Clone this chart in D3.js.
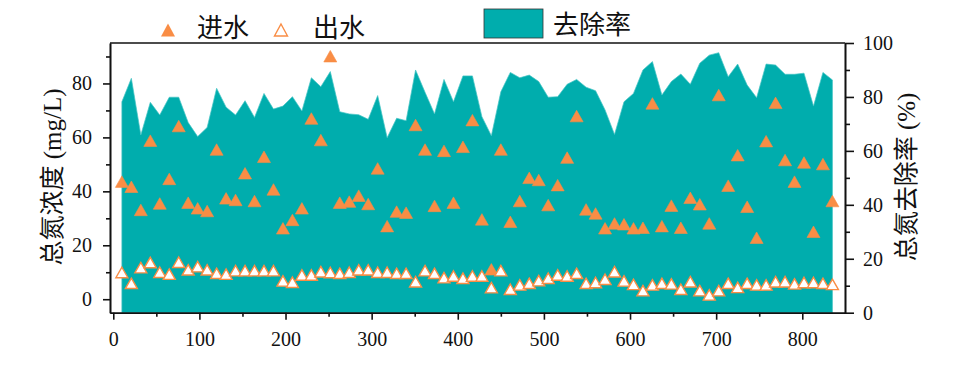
<!DOCTYPE html>
<html><head><meta charset="utf-8">
<script src="https://cdn.jsdelivr.net/npm/d3@7"></script>
<style>
html,body{margin:0;padding:0;background:#fff;}
svg{display:block;}
text{font-family:"Liberation Serif","Noto Sans CJK SC",serif;fill:#111;}
.cjk{font-family:"Liberation Serif","Noto Sans CJK SC",serif;}
</style></head>
<body>
<svg id="chart" width="956" height="375"></svg>
<script>
// ---- data ----
const days = [10,21,32,43,54,65,76,87,98,109,120,131,142,153,164,175,186,197,208,219,230,241,252,263,274,285,296,307,318,329,340,351,362,373,384,395,406,417,428,439,450,461,472,483,494,505,516,527,538,549,560,571,582,593,604,615,626,637,648,659,670,681,692,703,714,725,736,747,758,769,780,791,802,813,824,835];
const influent = [43.6,41.7,33.1,58.8,35.5,44.6,64.2,35.8,33.7,32.7,55.5,37.4,36.8,46.7,36.4,52.8,40.7,26.3,29.4,33.7,67.0,59.0,90.1,35.8,36.2,38.4,35.3,48.5,27.1,32.5,32.1,64.6,55.5,34.6,55.0,35.8,56.5,66.4,29.6,11.1,55.5,28.7,36.4,45.0,44.2,34.9,42.3,52.5,67.9,33.3,31.8,26.3,28.1,27.8,26.3,26.5,72.6,27.1,34.7,26.5,37.6,35.2,28.1,75.7,42.1,53.4,34.3,22.8,58.6,72.8,51.6,43.6,50.7,25.0,50.1,36.4];
const effluent = [9.9,5.9,11.7,13.6,10.0,9.3,13.7,10.9,12.1,10.9,9.6,9.3,10.6,10.6,10.6,10.6,10.6,6.8,6.3,9.0,9.0,10.2,9.9,9.6,10.0,10.9,10.9,10.0,10.0,9.6,9.6,6.5,10.6,9.6,8.0,8.6,7.8,8.6,8.6,4.3,10.6,3.7,5.3,5.9,6.9,7.8,9.0,8.6,9.6,5.9,6.2,7.4,10.2,6.8,5.5,3.2,5.3,5.9,5.7,3.7,6.5,3.2,1.6,3.2,5.9,4.4,5.9,5.3,5.3,6.5,6.5,5.7,6.2,6.2,5.9,5.5];
const removal = [78.2,86.9,65.9,78.0,73.3,79.9,79.9,70.5,65.3,68.7,83.2,76.2,73.3,78.6,72.4,81.3,75.5,76.6,80.1,74.8,87.1,83.8,89.4,74.5,73.7,73.4,71.7,80.5,64.9,72.1,71.2,90.0,81.7,73.7,86.5,78.2,87.8,87.8,72.7,65.6,81.9,89.1,87.1,88.1,85.7,79.9,80.1,84.7,86.5,83.6,82.3,75.2,66.1,78.2,81.3,90.0,93.1,80.7,85.7,88.5,84.7,92.5,95.5,96.4,87.5,92.2,84.4,79.7,92.2,91.8,88.4,88.4,88.8,76.6,89.1,86.3];
const xTicks = [0,100,200,300,400,500,600,700,800];
const yLeftTicks = [0,20,40,60,80];
const yRightTicks = [0,20,40,60,80,100];
const legendLabels = ["进水","出水","去除率"];
const axisTitles = ["总氮浓度 (mg/L)","总氮去除率 (%)"];

const teal = "#00ADAD", orange = "#F98D45";
const L = 110, R = 845, T = 43, B = 312.7;

const svg = d3.select("#chart");
const x = d3.scaleLinear().domain([-3.8, 849.6]).range([L, R]);
const yL = d3.scaleLinear().domain([-5, 95]).range([B, T]);
const yR = d3.scaleLinear().domain([0, 100]).range([B, T]);

// area
const area = d3.area().x((d,i)=>x(days[i])).y0(yR(0)).y1(d=>yR(d));
svg.append("path").datum(removal).attr("d", area)
  .attr("fill", teal).attr("stroke", "#45c4c4").attr("stroke-width", 0.7);

// triangle marker with bbox centered
const tw = 13, th = 11.5;
function tri(cx, cy, w, h){
  return `M${cx},${cy-h/2}L${cx+w/2},${cy+h/2}L${cx-w/2},${cy+h/2}Z`;
}
svg.append("g").selectAll("path").data(influent).join("path")
  .attr("d",(d,i)=>tri(x(days[i]), yL(d), tw, th))
  .attr("fill", orange).attr("stroke", orange).attr("stroke-width", 0.6);
svg.append("g").selectAll("path").data(effluent).join("path")
  .attr("d",(d,i)=>tri(x(days[i]), yL(d), tw-1, th-1))
  .attr("fill", "#fff").attr("stroke", orange).attr("stroke-width", 1.4);

// axes
const axW = 1.6;
function styleAxis(g){
  g.selectAll(".domain").attr("stroke","#111").attr("stroke-width",axW);
  g.selectAll(".tick line").attr("stroke","#111").attr("stroke-width",axW);
  g.selectAll("text").attr("font-size",20).attr("fill","#111")
   .attr("font-family","Liberation Serif");
}
const xMinor = xTicks.slice(0,-1).map(v=>v+50);
svg.append("g").attr("transform",`translate(0,${B})`)
  .call(d3.axisBottom(x).tickValues(xMinor).tickSize(4).tickFormat("").tickSizeOuter(0))
  .call(styleAxis);
svg.append("g").attr("transform",`translate(0,${B})`)
  .call(d3.axisBottom(x).tickValues(xTicks).tickSize(7).tickPadding(12).tickSizeOuter(0))
  .call(styleAxis);

const yLMinor = yLeftTicks.map(v=>v+10);
svg.append("g").attr("transform",`translate(${L},0)`)
  .call(d3.axisLeft(yL).tickValues(yLMinor).tickSize(4).tickFormat("").tickSizeOuter(0))
  .call(styleAxis);
svg.append("g").attr("transform",`translate(${L},0)`)
  .call(d3.axisLeft(yL).tickValues(yLeftTicks).tickSize(7).tickPadding(11).tickSizeOuter(0))
  .call(styleAxis);

const yRMinor = yRightTicks.slice(0,-1).map(v=>v+10);
svg.append("g").attr("transform",`translate(${R},0)`)
  .call(d3.axisRight(yR).tickValues(yRMinor).tickSize(5).tickFormat("").tickSizeOuter(0))
  .call(styleAxis);
svg.append("g").attr("transform",`translate(${R},0)`)
  .call(d3.axisRight(yR).tickValues(yRightTicks).tickSize(9).tickPadding(9).tickSizeOuter(0))
  .call(styleAxis);

// top frame line
svg.append("line").attr("x1",L).attr("x2",R).attr("y1",T).attr("y2",T)
  .attr("stroke","#111").attr("stroke-width",axW);

// axis titles
svg.append("text").attr("class","cjk")
  .attr("transform",`translate(61,177) rotate(-90)`)
  .attr("text-anchor","middle").attr("font-size",25).text(axisTitles[0]);
svg.append("text").attr("class","cjk")
  .attr("transform",`translate(915,177) rotate(-90)`)
  .attr("text-anchor","middle").attr("font-size",25).text(axisTitles[1]);

// legend
const lg = svg.append("g");
lg.append("path").attr("d", tri(168, 30, 14, 13)).attr("fill", orange);
lg.append("text").attr("x",197).attr("y",37).attr("font-size",26).text(legendLabels[0]);
lg.append("path").attr("d", tri(281, 30, 13, 12)).attr("fill","#fff")
  .attr("stroke",orange).attr("stroke-width",1.4);
lg.append("text").attr("x",313).attr("y",37).attr("font-size",26).text(legendLabels[1]);
lg.append("rect").attr("x",484).attr("y",9).attr("width",59).attr("height",29)
  .attr("fill",teal).attr("stroke","#333").attr("stroke-width",0.8);
lg.append("text").attr("x",553).attr("y",34).attr("font-size",26).text(legendLabels[2]);
</script>
</body></html>
